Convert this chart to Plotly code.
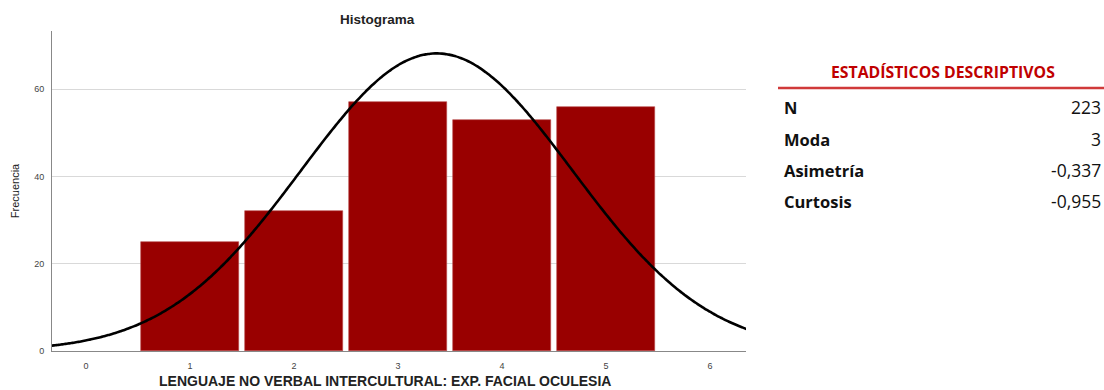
import numpy as np
import plotly.graph_objects as go

# Histogram data
valores = [1, 2, 3, 4, 5]
frecuencias = [25, 32, 57, 53, 56]
y_ticks = [0, 20, 40, 60]
x_ticks = [0, 1, 2, 3, 4, 5, 6]

# Descriptive statistics table
stat_labels = ["N", "Moda", "Asimetría", "Curtosis"]
stat_values = ["223", "3", "-0,337", "-0,955"]

W, H = 1104, 390
L, R, T, B = 52, 746, 31, 351  # plot area in pixels

# Normal curve fitted to the grouped data
x = np.array(valores, dtype=float)
f = np.array(frecuencias, dtype=float)
n = f.sum()
media = (x * f).sum() / n
sd = np.sqrt(((x - media) ** 2 * f).sum() / (n - 1))
xs = np.linspace(-0.33, 6.35, 300)
ys = n * 1.0 / (sd * np.sqrt(2 * np.pi)) * np.exp(-0.5 * ((xs - media) / sd) ** 2)

fig = go.Figure()
fig.add_trace(go.Bar(
    x=valores, y=frecuencias, width=0.94,
    marker=dict(color="#990000", line=dict(color="#b84a4a", width=0.6)),
    hoverinfo="x+y",
))
fig.add_trace(go.Scatter(
    x=xs, y=ys, mode="lines",
    line=dict(color="#000000", width=2.6, shape="spline"),
    hoverinfo="skip",
))


def px(p):
    return (p - L) / (R - L)


def py(p):
    return (B - p) / (B - T)


def note(text, xp, yp, size, family, color="#111", xanchor="center"):
    return dict(text=text, x=px(xp), y=py(yp), xref="paper", yref="paper",
                xanchor=xanchor, yanchor="middle", showarrow=False,
                font=dict(family=family, size=size, color=color))


ann = [
    note("<b>Histograma</b>", 377, 20, 13.5, "Liberation Sans", "#222"),
    note("<b>LENGUAJE NO VERBAL INTERCULTURAL: EXP. FACIAL OCULESIA</b>", 385, 381,
         14, "Liberation Sans", "#222"),
    note("<b>ESTADÍSTICOS DESCRIPTIVOS</b>", 943, 72, 15.8, "Open Sans", "#c00000"),
]
row_y = [107, 139, 170, 201]
for lab, val, yy in zip(stat_labels, stat_values, row_y):
    ann.append(note("<b>" + lab + "</b>", 782, yy, 16.5, "Open Sans", "#111", "left"))
    ann.append(note(val, 1103, yy, 17.5, "Open Sans", "#111", "right"))

fig.update_layout(
    width=W, height=H,
    margin=dict(l=L, r=W - R, t=T, b=H - B),
    paper_bgcolor="white", plot_bgcolor="white",
    showlegend=False,
    bargap=0,
    annotations=ann,
    shapes=[dict(type="line", xref="paper", yref="paper",
                 x0=px(778), x1=px(1104), y0=py(88), y1=py(88),
                 line=dict(color="#d03a3a", width=2.5))],
    xaxis=dict(range=[-0.327, 6.346], tickvals=x_ticks,
               ticktext=[str(v) for v in x_ticks],
               tickfont=dict(family="Liberation Sans", size=9, color="#444"),
               showgrid=False, zeroline=False, showline=True,
               linecolor="#888", linewidth=1, ticks="", ticklabelstandoff=6),
    yaxis=dict(range=[0, 73.3], tickvals=y_ticks,
               ticktext=[str(v) for v in y_ticks],
               tickfont=dict(family="Liberation Sans", size=9, color="#444"),
               showgrid=True, gridcolor="#d9d9d9", gridwidth=1,
               zeroline=False, showline=True, linecolor="#888", linewidth=1,
               ticks="", ticklabelstandoff=5,
               title=dict(text="Frecuencia",
                          font=dict(family="Liberation Sans Narrow, Liberation Sans",
                                    size=11, color="#222"),
                          standoff=12)),
)

fig.write_html("out.html")
